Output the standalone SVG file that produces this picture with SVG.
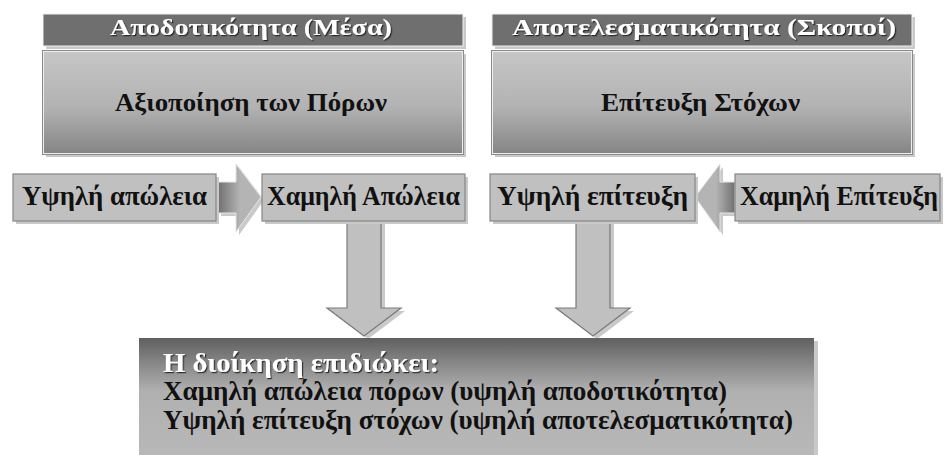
<svg xmlns="http://www.w3.org/2000/svg" width="945" height="455" viewBox="0 0 945 455">
<defs>
<linearGradient id="gMain" x1="0" y1="0" x2="0" y2="1">
<stop offset="0" stop-color="#c6c6c6"/>
<stop offset="0.55" stop-color="#b2b2b2"/>
<stop offset="1" stop-color="#858585"/>
</linearGradient>
<linearGradient id="gBottom" x1="0" y1="0" x2="0" y2="1">
<stop offset="0" stop-color="#606060"/>
<stop offset="0.45" stop-color="#b0b0b0"/>
<stop offset="1" stop-color="#b8b8b8"/>
</linearGradient>
<linearGradient id="gRight" gradientUnits="userSpaceOnUse" x1="218" y1="0" x2="240" y2="0">
<stop offset="0" stop-color="#707070"/>
<stop offset="1" stop-color="#b4b4b4"/>
</linearGradient>
<linearGradient id="gLeft" gradientUnits="userSpaceOnUse" x1="735" y1="0" x2="716" y2="0">
<stop offset="0" stop-color="#707070"/>
<stop offset="1" stop-color="#b4b4b4"/>
</linearGradient>
<filter id="ts" x="-5%" y="-20%" width="110%" height="140%">
<feDropShadow dx="1.2" dy="1.2" stdDeviation="0.4" flood-color="#1a1a1a" flood-opacity="0.9"/>
</filter>
</defs>
<style>
text{font-family:"Liberation Serif","Times New Roman",serif;font-weight:bold}
.shadow{fill:#c9c9c9}
.hdr{fill:#6f6f6f;stroke:#f2f2f2;stroke-width:1}
.hdrOut{fill:none;stroke:#8a8a8a;stroke-width:1}
.main{fill:url(#gMain);stroke:#eeeeee;stroke-width:1}
.box{fill:#c0c0c0;stroke:#858585;stroke-width:1.2}
.hdrTxt{fill:#ffffff;font-size:23px;filter:url(#ts)}
.mainTxt{fill:#111111;font-size:25px}
.boxTxt{fill:#111111;font-size:27px}
.botTxt{fill:#111111;font-size:27px}
.botHead{fill:#ffffff;font-size:27px;filter:url(#ts)}
.down{fill:#c0c0c0;stroke:#7a7a7a;stroke-width:1.2}
</style>

<g id="connectors">
<path class="shadow" d="M351,223 L385,223 L385,311 L405,311 L368,339 L331,311 L351,311 Z"/>
<path class="down" d="M347,219 L381,219 L381,308 L401,308 L364,336 L327,308 L347,308 Z"/>
<path class="shadow" d="M580,223 L614,223 L614,311 L634,311 L597,339 L560,311 L580,311 Z"/>
<path class="down" d="M576,219 L610,219 L610,308 L630,308 L593,336 L556,308 L576,308 Z"/>
<path class="shadow" d="M221,185 L239,185 L239,167 L264,200 L239,235 L239,216 L221,216 Z"/>
<path d="M218,182 L236,182 L236,164 L261,197 L236,232 L236,213 L218,213 Z" fill="url(#gRight)" stroke="#e6e6e6" stroke-width="1"/>
<path class="shadow" d="M738,185 L723,185 L723,167 L698,200 L723,235 L723,216 L738,216 Z"/>
<path d="M735,182 L720,182 L720,164 L695,197 L720,232 L720,213 L735,213 Z" fill="url(#gLeft)" stroke="#e6e6e6" stroke-width="1"/>
</g>

<g id="hdr-efficiency">
<rect class="shadow" x="46" y="17" width="420" height="32"/>
<rect class="hdr" x="43" y="14" width="420" height="32"/>
<text class="hdrTxt" x="110" y="35" textLength="282" lengthAdjust="spacingAndGlyphs">Αποδοτικότητα (Μέσα)</text>
</g>
<g id="main-efficiency">
<rect class="shadow" x="46" y="54" width="420" height="103"/>
<rect class="hdrOut" x="42.5" y="50.5" width="421" height="104"/>
<rect class="main" x="43.5" y="51.5" width="419" height="102"/>
<text class="mainTxt" x="115" y="111" textLength="272" lengthAdjust="spacingAndGlyphs">Αξιοποίηση των Πόρων</text>
</g>

<g id="hdr-effectiveness">
<rect class="shadow" x="495" y="17" width="420" height="32"/>
<rect class="hdr" x="492" y="14" width="420" height="32"/>
<text class="hdrTxt" x="512" y="35" textLength="384" lengthAdjust="spacingAndGlyphs">Αποτελεσματικότητα (Σκοποί)</text>
</g>
<g id="main-effectiveness">
<rect class="shadow" x="495" y="54" width="420" height="103"/>
<rect class="hdrOut" x="491.5" y="50.5" width="421" height="104"/>
<rect class="main" x="492.5" y="51.5" width="419" height="102"/>
<text class="mainTxt" x="601" y="111" textLength="199" lengthAdjust="spacingAndGlyphs">Επίτευξη Στόχων</text>
</g>

<g id="high-loss">
<rect class="shadow" x="16" y="177" width="203" height="47"/>
<rect class="box" x="13" y="174" width="203" height="47"/>
<text class="boxTxt" x="22" y="205" textLength="185" lengthAdjust="spacingAndGlyphs">Υψηλή απώλεια</text>
</g>
<g id="low-loss">
<rect class="shadow" x="265" y="177" width="203" height="47"/>
<rect class="box" x="262" y="174" width="203" height="47"/>
<text class="boxTxt" x="267" y="205" textLength="193" lengthAdjust="spacingAndGlyphs">Χαμηλή Απώλεια</text>
</g>
<g id="high-achievement">
<rect class="shadow" x="493" y="177" width="205" height="47"/>
<rect class="box" x="490" y="174" width="205" height="47"/>
<text class="boxTxt" x="497" y="205" textLength="191" lengthAdjust="spacingAndGlyphs">Υψηλή επίτευξη</text>
</g>
<g id="low-achievement">
<rect class="shadow" x="738" y="177" width="205" height="47"/>
<rect class="box" x="735" y="174" width="205" height="47"/>
<text class="boxTxt" x="740" y="205" textLength="198" lengthAdjust="spacingAndGlyphs">Χαμηλή Επίτευξη</text>
</g>

<g id="management-goal">
<rect class="shadow" x="142" y="341" width="676" height="114"/>
<rect x="139" y="338" width="675" height="117" fill="url(#gBottom)"/>
<text class="botHead" x="163" y="372" textLength="276" lengthAdjust="spacingAndGlyphs">Η διοίκηση επιδιώκει:</text>
<text class="botTxt" x="163" y="400" textLength="564" lengthAdjust="spacingAndGlyphs">Χαμηλή απώλεια πόρων (υψηλή αποδοτικότητα)</text>
<text class="botTxt" x="163" y="429" textLength="630" lengthAdjust="spacingAndGlyphs">Υψηλή επίτευξη στόχων (υψηλή αποτελεσματικότητα)</text>
</g>
</svg>
